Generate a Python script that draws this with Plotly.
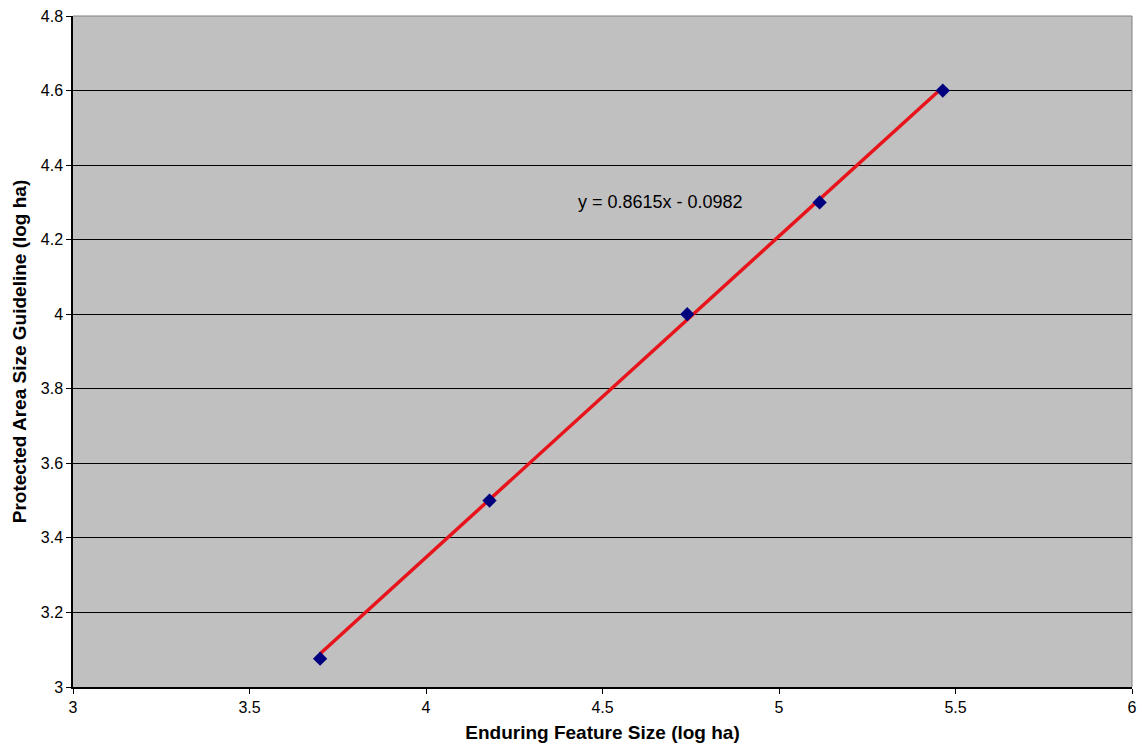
import plotly.graph_objects as go

# Enduring feature size vs. protected area size guideline (both log10 ha)
feature_size = [3.70, 4.18, 4.74, 5.115, 5.464]
guideline_size = [3.076, 3.50, 4.00, 4.30, 4.60]

# Linear trendline y = slope * x + intercept
slope = 0.8615
intercept = -0.0982
trend_x = [min(feature_size), max(feature_size)]
trend_y = [slope * v + intercept for v in trend_x]

x_ticks = [3, 3.5, 4, 4.5, 5, 5.5, 6]
y_ticks = [3, 3.2, 3.4, 3.6, 3.8, 4, 4.2, 4.4, 4.6, 4.8]

font_family = "Liberation Sans, Arial, sans-serif"

fig = go.Figure()

fig.add_trace(go.Scatter(
    x=trend_x, y=trend_y, mode="lines",
    line=dict(color="#E8141B", width=3.5),
    showlegend=False, hoverinfo="skip",
))

fig.add_trace(go.Scatter(
    x=feature_size, y=guideline_size, mode="markers",
    marker=dict(symbol="diamond", size=11, color="#00007F"),
    showlegend=False,
))

fig.add_annotation(
    x=4.663, y=4.30, xref="x", yref="y",
    text=f"y = {slope}x - {abs(intercept)}",
    showarrow=False,
    font=dict(family=font_family, size=18, color="#000000"),
)

# Thin gray frame on the top and right edges of the plot area
fig.add_shape(type="line", xref="paper", yref="paper", x0=0, x1=1, y0=1, y1=1,
              line=dict(color="#808080", width=1), layer="above")
fig.add_shape(type="line", xref="paper", yref="paper", x0=1, x1=1, y0=0, y1=1,
              line=dict(color="#808080", width=1), layer="above")

fig.update_layout(
    width=1142, height=747,
    margin=dict(l=73, r=10, t=16, b=60),
    paper_bgcolor="#FFFFFF",
    plot_bgcolor="#C0C0C0",
    font=dict(family=font_family, size=16, color="#000000"),
    xaxis=dict(
        range=[3, 6], tickvals=x_ticks, ticktext=[f"{v:g}" for v in x_ticks],
        automargin=False,
        showgrid=False, zeroline=False,
        showline=True, linecolor="#000000", linewidth=1.5,
        ticks="outside", ticklen=5, tickcolor="#000000",
        title=dict(text="<b>Enduring Feature Size (log ha)</b>",
                   font=dict(size=19), standoff=11),
    ),
    yaxis=dict(
        range=[3, 4.8], tickvals=y_ticks, ticktext=[f"{v:g}" for v in y_ticks],
        automargin=False,
        showgrid=True, gridcolor="#000000", gridwidth=1,
        zeroline=False,
        showline=True, linecolor="#000000", linewidth=1.5,
        ticks="outside", ticklen=5, tickcolor="#000000",
        title=dict(text="<b>Protected Area Size Guideline (log ha)</b>",
                   font=dict(size=19), standoff=9),
    ),
)

fig.write_html("out.html")
